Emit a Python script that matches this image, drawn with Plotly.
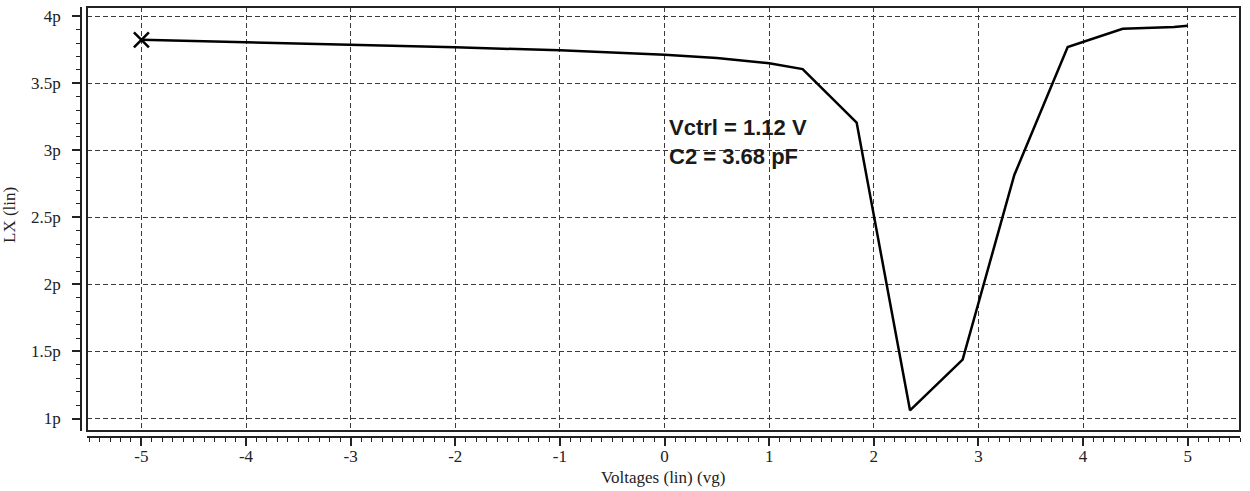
import plotly.graph_objects as go

# Data
vg = [-5, -4, -3, -2, -1, -0.5, 0, 0.5, 1.0, 1.32, 1.836, 2.346, 2.849, 3.343, 3.853, 4.379, 4.615, 4.87, 5.0]
lx = [3.824, 3.806, 3.791, 3.768, 3.746, 3.731, 3.712, 3.689, 3.649, 3.606, 3.207, 1.061, 1.44, 2.816, 3.77, 3.907, 3.912, 3.92, 3.929]

x_ticks = [-5, -4, -3, -2, -1, 0, 1, 2, 3, 4, 5]
y_ticks = [1, 1.5, 2, 2.5, 3, 3.5, 4]
y_ticktext = ["1p", "1.5p", "2p", "2.5p", "3p", "3.5p", "4p"]

annot_lines = ["Vctrl = 1.12 V", "C2 = 3.68 pF"]

W, H = 1250, 491
px_left, px_right, px_top, px_bottom = 87, 1240, 7, 431

serif = "Liberation Serif, Times New Roman, serif"
tick_font = dict(family=serif, size=17, color="#222")

fig = go.Figure()
fig.add_trace(go.Scatter(x=vg, y=lx, mode="lines",
                         line=dict(color="black", width=2.5), showlegend=False,
                         hoverinfo="skip"))
fig.add_trace(go.Scatter(x=[vg[0]], y=[lx[0]], mode="markers",
                         marker=dict(symbol="x-thin", size=15,
                                     line=dict(color="black", width=2.5)),
                         showlegend=False, hoverinfo="skip"))

grid = dict(showgrid=True, gridcolor="#3a3a3a", gridwidth=1, griddash="5px,3px")

fig.update_layout(
    width=W, height=H,
    margin=dict(l=0, r=0, t=0, b=0),
    paper_bgcolor="white", plot_bgcolor="white",
    xaxis=dict(
        domain=[px_left / W, px_right / W],
        range=[-5.52, 5.5],
        anchor="free", position=1 - 437 / H,
        showline=True, linecolor="#222", linewidth=1.5,
        ticks="outside", ticklen=8, tickwidth=1.5, tickcolor="#222",
        tickvals=x_ticks, ticktext=[str(v) for v in x_ticks],
        tickfont=tick_font, ticklabelstandoff=-4,
        minor=dict(dtick=0.1, tick0=0, ticks="outside", ticklen=4,
                   tickwidth=1, tickcolor="#222", showgrid=False),
        zeroline=False, automargin=False, fixedrange=True,
        **grid,
    ),
    yaxis=dict(
        domain=[1 - px_bottom / H, 1 - px_top / H],
        range=[0.907, 4.069],
        anchor="free", position=81 / W,
        showline=True, linecolor="#222", linewidth=1.5,
        ticks="outside", ticklen=8, tickwidth=1.5, tickcolor="#222",
        tickvals=y_ticks, ticktext=y_ticktext,
        tickfont=tick_font, ticklabelstandoff=8,
        minor=dict(dtick=0.1, tick0=0, ticks="outside", ticklen=4,
                   tickwidth=1, tickcolor="#222", showgrid=False),
        zeroline=False, automargin=False, fixedrange=True,
        **grid,
    ),
    shapes=[dict(type="rect", xref="x domain", yref="y domain",
                 x0=0, x1=1, y0=0, y1=1,
                 line=dict(color="#222", width=2), layer="above")],
    annotations=[
        dict(text="Voltages (lin) (vg)", xref="paper", yref="paper",
             x=663 / W, y=1 - 477 / H, xanchor="center", yanchor="middle",
             showarrow=False, font=dict(family=serif, size=17, color="#222")),
        dict(text="LX (lin)", xref="paper", yref="paper",
             x=10 / W, y=1 - 215 / H, xanchor="center", yanchor="middle",
             textangle=-90, showarrow=False,
             font=dict(family=serif, size=17, color="#222")),
        dict(text="<br>".join("<b>%s</b>" % s for s in annot_lines),
             xref="x", yref="y",
             x=0.02, y=3.06, xanchor="left", yanchor="middle", align="left",
             showarrow=False,
             font=dict(family="Liberation Sans, Arial, sans-serif", size=22,
                       color="#1a1a1a")),
    ],
)

fig.write_html("out.html")
